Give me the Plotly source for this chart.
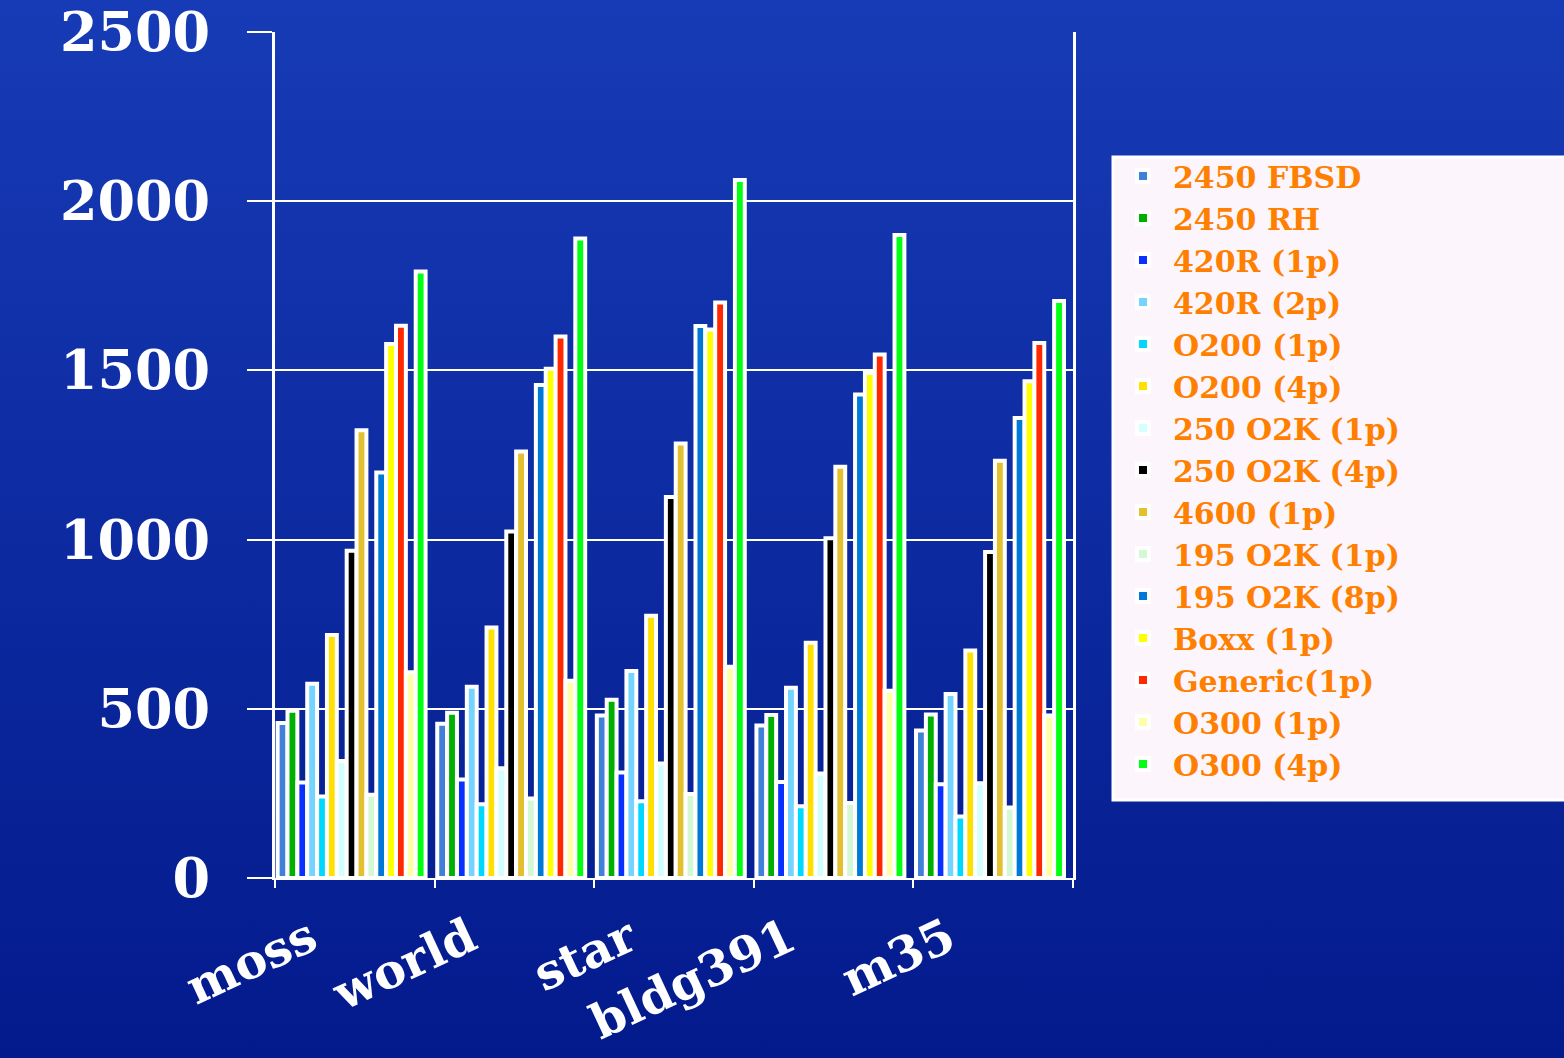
import base64
import plotly.graph_objects as go

categories = ["moss", "world", "star", "bldg391", "m35"]

series_names = [
    "2450 FBSD", "2450 RH", "420R (1p)", "420R (2p)", "O200 (1p)", "O200 (4p)",
    "250 O2K (1p)", "250 O2K (4p)", "4600 (1p)", "195 O2K (1p)", "195 O2K (8p)",
    "Boxx (1p)", "Generic(1p)", "O300 (1p)", "O300 (4p)",
]

series_colors = [
    "#4080d8", "#00b000", "#0a30ff", "#74d4ff", "#00d8ff", "#ffe000",
    "#d4ffff", "#000000", "#e2c030", "#d4f8d4", "#0078d8",
    "#ffff00", "#ff2800", "#ffffa8", "#00ff10",
]

# values per series, in category order: moss, world, star, bldg391, m35
v_2450_fbsd = [458, 456, 480, 451, 436]
v_2450_rh = [494, 488, 527, 482, 483]
v_420r_1p = [282, 291, 312, 284, 277]
v_420r_2p = [574, 565, 612, 562, 544]
v_o200_1p = [241, 218, 227, 212, 182]
v_o200_4p = [718, 740, 775, 695, 672]
v_250_1p = [346, 324, 338, 309, 280]
v_250_4p = [967, 1024, 1126, 1004, 963]
v_4600_1p = [1323, 1260, 1284, 1215, 1233]
v_195_1p = [246, 235, 248, 222, 208]
v_195_8p = [1198, 1457, 1631, 1429, 1359]
v_boxx_1p = [1578, 1505, 1621, 1492, 1468]
v_generic_1p = [1632, 1600, 1701, 1547, 1581]
v_o300_1p = [608, 583, 624, 553, 480]
v_o300_4p = [1792, 1890, 2063, 1900, 1705]

series_values = [
    v_2450_fbsd, v_2450_rh, v_420r_1p, v_420r_2p, v_o200_1p, v_o200_4p,
    v_250_1p, v_250_4p, v_4600_1p, v_195_1p, v_195_8p,
    v_boxx_1p, v_generic_1p, v_o300_1p, v_o300_4p,
]

y_ticks = [0, 500, 1000, 1500, 2000, 2500]

W, H = 1564, 1058
L, R, T, B = 275, 491, 32, 180
PW, PH = W - L - R, H - T - B

SHIFT = 0.02
xpos = list(range(len(categories)))
x_range = [-0.5 + SHIFT, len(categories) - 0.5 + SHIFT]
boundaries = [x_range[0] + k for k in range(len(categories) + 1)]
label_pos = [i - 0.5 + SHIFT + 0.22 for i in xpos]

fig = go.Figure()
for name, color, vals in zip(series_names, series_colors, series_values):
    fig.add_trace(go.Bar(
        name=name, x=xpos, y=vals,
        marker=dict(color=color, line=dict(color="#ffffff", width=4)),
    ))

svg = (
    f'<svg xmlns="http://www.w3.org/2000/svg" width="{W}" height="{H}" preserveAspectRatio="none">'
    '<defs><linearGradient id="g" x1="0" y1="0" x2="0" y2="1">'
    '<stop offset="0" stop-color="#173bb6"/><stop offset="1" stop-color="#031a8c"/>'
    '</linearGradient></defs>'
    f'<rect width="{W}" height="{H}" fill="url(#g)"/></svg>'
)
src = "data:image/svg+xml;base64," + base64.b64encode(svg.encode()).decode()

font_fam = "DejaVu Serif"

# legend box (decoration behind the legend)
LEG_L, LEG_R, LEG_T, LEG_B = 1113, 1580, 157, 800

fig.update_layout(
    width=W, height=H,
    margin=dict(l=L, r=R, t=T, b=B, autoexpand=False),
    paper_bgcolor="#0d2aa0",
    plot_bgcolor="rgba(0,0,0,0)",
    barmode="group", bargap=0.073, bargroupgap=0,
    font=dict(family=font_fam, color="#ffffff", weight="bold"),
    images=[dict(
        source=src, xref="paper", yref="paper",
        x=-L / PW, y=1 + T / PH, sizex=W / PW, sizey=H / PH,
        xanchor="left", yanchor="top", sizing="stretch", layer="below",
    )],
    shapes=[dict(
        type="rect", xref="paper", yref="paper",
        x0=(LEG_L - L) / PW, x1=(LEG_R - L) / PW,
        y0=(H - B - LEG_B) / PH, y1=(H - B - LEG_T) / PH,
        fillcolor="#fdf5fc", line=dict(color="#ffffff", width=3), layer="above",
    )],
    xaxis=dict(
        range=x_range, tickmode="array", tickvals=label_pos, ticktext=categories,
        ticks="", tickangle=-25, ticklabelstandoff=12, ticklabeloverflow="allow",
        tickfont=dict(family=font_fam, size=48, color="#ffffff", weight="bold"),
        showgrid=False, zeroline=False,
        showline=True, linecolor="#ffffff", linewidth=2,
        minor=dict(tickmode="array", tickvals=boundaries, ticks="outside",
                   ticklen=8, tickwidth=2, tickcolor="#ffffff", showgrid=False),
    ),
    yaxis=dict(
        range=[0, 2500], tickmode="array", tickvals=y_ticks,
        ticks="outside", ticklen=25, tickwidth=2, tickcolor="#ffffff",
        ticklabelstandoff=26, ticklabeloverflow="allow",
        tickfont=dict(family=font_fam, size=54, color="#ffffff", weight="bold"),
        showgrid=True, gridcolor="#ffffff", gridwidth=2,
        zeroline=False,
        showline=True, linecolor="#ffffff", linewidth=3, mirror=True,
    ),
    legend=dict(
        x=(LEG_L - L) / PW, y=(H - B - 150) / PH, xanchor="left", yanchor="top",
        bgcolor="rgba(0,0,0,0)", borderwidth=0,
        font=dict(family=font_fam, size=30, color="#ff7f00", weight="bold"),
        itemwidth=50, traceorder="normal",
    ),
    showlegend=True,
)

fig.write_html("out.html", config={"displayModeBar": False},
               post_script="document.body.style.margin='0';")
